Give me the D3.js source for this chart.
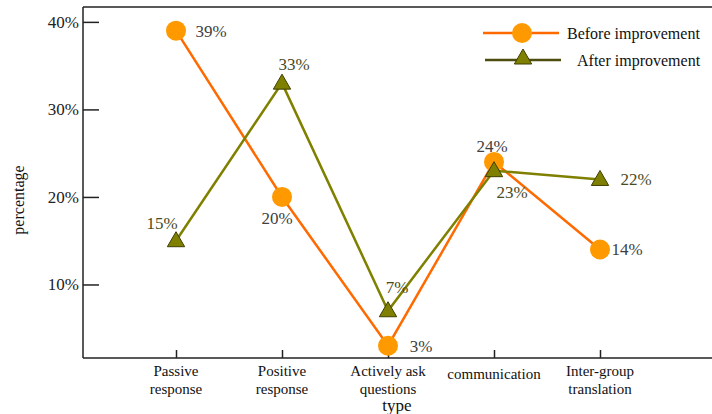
<!DOCTYPE html>
<html>
<head>
<meta charset="utf-8">
<script src="https://cdn.jsdelivr.net/npm/d3@7/dist/d3.min.js"></script>
<style>
  html, body { margin: 0; padding: 0; background: #fff; }
  svg { display: block; }
  svg text { font-family: "Times New Roman", "Liberation Serif", Times, "DejaVu Serif", serif !important; }
</style>
</head>
<body>
<svg id="chart" width="712" height="414"></svg>
<script>
// ---- data ----
const categories = ["Passive\nresponse", "Positive\nresponse", "Actively ask\nquestions", "communication", "Inter-group\ntranslation"];
const beforeValues = [39, 20, 3, 24, 14];
const afterValues = [15, 33, 7, 23, 22];
const yTicks = [10, 20, 30, 40];
const seriesNames = ["Before improvement", "After improvement"];

// ---- layout ----
const mLeft = 83, mTop = 7, mBottom = 358, mRight = 712;
const svg = d3.select("#chart");

const x = d3.scalePoint().domain(categories).range([176, 600]);
const y = d3.scaleLinear().domain([1.6, 41.7]).range([mBottom, mTop]);

const beforeColor = "#ff6a00", beforeFill = "#ff9900";
const afterColor = "#808000", afterStroke = "#3f3f00";

// frame lines (left, top, bottom)
svg.append("line").attr("x1", mLeft).attr("x2", mLeft).attr("y1", mTop).attr("y2", mBottom)
  .attr("stroke", "#222").attr("stroke-width", 1.5);
svg.append("line").attr("x1", mLeft).attr("x2", mRight).attr("y1", mTop).attr("y2", mTop)
  .attr("stroke", "#222").attr("stroke-width", 1.5);
svg.append("line").attr("x1", mLeft).attr("x2", mRight).attr("y1", mBottom).attr("y2", mBottom)
  .attr("stroke", "#222").attr("stroke-width", 1.5);

// y axis
const yAxis = svg.append("g").attr("transform", `translate(${mLeft},0)`)
  .call(d3.axisLeft(y).tickValues(yTicks).tickFormat(d => d + "%").tickSizeInner(-16).tickSizeOuter(0).tickPadding(4));
yAxis.attr("font-family", null);
yAxis.select(".domain").remove();
yAxis.selectAll(".tick line").attr("stroke", "#222").attr("stroke-width", 1.5);
yAxis.selectAll(".tick text").attr("font-size", 17).attr("fill", "#222");

// x axis ticks
const xAxis = svg.append("g").attr("transform", `translate(0,${mBottom})`)
  .call(d3.axisBottom(x).tickSizeInner(-8).tickSizeOuter(0).tickFormat(""));
xAxis.select(".domain").remove();
xAxis.selectAll(".tick line").attr("stroke", "#222").attr("stroke-width", 1.5);

// x category labels (multi-line)
categories.forEach(c => {
  const lines = c.split("\n");
  const t = svg.append("text").attr("text-anchor", "middle").attr("font-size", 15).attr("fill", "#111");
  lines.forEach((ln, i) => {
    t.append("tspan").attr("x", x(c))
      .attr("y", lines.length === 1 ? 379 : 376 + i * 18).text(ln);
  });
});

// axis titles
svg.append("text").attr("transform", "translate(24,200) rotate(-90)")
  .attr("text-anchor", "middle").attr("font-size", 16).attr("fill", "#111").text("percentage");
svg.append("text").attr("x", 397).attr("y", 411).attr("text-anchor", "middle")
  .attr("font-size", 17).attr("fill", "#111").text("type");

// lines
const line = d3.line().x((d, i) => x(categories[i])).y(d => y(d));
svg.append("path").datum(beforeValues).attr("d", line).attr("fill", "none")
  .attr("stroke", beforeColor).attr("stroke-width", 2.5);
svg.append("path").datum(afterValues).attr("d", line).attr("fill", "none")
  .attr("stroke", afterColor).attr("stroke-width", 2.5);

// markers
const tri = d3.symbol().type(d3.symbolTriangle).size(130);
svg.selectAll("circle.before").data(beforeValues).enter().append("circle")
  .attr("cx", (d, i) => x(categories[i])).attr("cy", d => y(d)).attr("r", 10)
  .attr("fill", beforeFill);
svg.selectAll("path.after").data(afterValues).enter().append("path")
  .attr("d", tri).attr("transform", (d, i) => `translate(${x(categories[i])},${y(d) + 1})`)
  .attr("fill", afterColor).attr("stroke", afterStroke).attr("stroke-width", 1);

// data labels (offsets are layout only)
const beforeOff = [[35, 0], [-5, 21], [33, 0], [-2, -16], [27, 0]];
const afterOff = [[-14, -18], [12, -19], [9, -24], [18, 21], [36, 0]];
svg.selectAll("text.bl").data(beforeValues).enter().append("text")
  .attr("x", (d, i) => x(categories[i]) + beforeOff[i][0])
  .attr("y", (d, i) => y(d) + beforeOff[i][1])
  .attr("dy", "0.35em").attr("text-anchor", "middle").attr("font-size", 17)
  .attr("fill", "#404040").text(d => d + "%");
svg.selectAll("text.al").data(afterValues).enter().append("text")
  .attr("x", (d, i) => x(categories[i]) + afterOff[i][0])
  .attr("y", (d, i) => y(d) + afterOff[i][1])
  .attr("dy", "0.35em").attr("text-anchor", "middle").attr("font-size", 17)
  .attr("fill", "#4a4a1c").text(d => d + "%");

// legend
const lg = svg.append("g");
lg.append("line").attr("x1", 483).attr("x2", 559).attr("y1", 33).attr("y2", 33)
  .attr("stroke", beforeColor).attr("stroke-width", 2.5);
lg.append("circle").attr("cx", 522).attr("cy", 33).attr("r", 10).attr("fill", beforeFill);
lg.append("text").attr("x", 567).attr("y", 33).attr("dy", "0.35em").attr("font-size", 16)
  .attr("fill", "#111").text(seriesNames[0]);
lg.append("line").attr("x1", 485).attr("x2", 561).attr("y1", 60).attr("y2", 60)
  .attr("stroke", "#4d4d10").attr("stroke-width", 2.5);
lg.append("path").attr("d", tri).attr("transform", "translate(523,59)")
  .attr("fill", afterColor).attr("stroke", afterStroke).attr("stroke-width", 1);
lg.append("text").attr("x", 577).attr("y", 60).attr("dy", "0.35em").attr("font-size", 16)
  .attr("fill", "#111").text(seriesNames[1]);
</script>
</body>
</html>
